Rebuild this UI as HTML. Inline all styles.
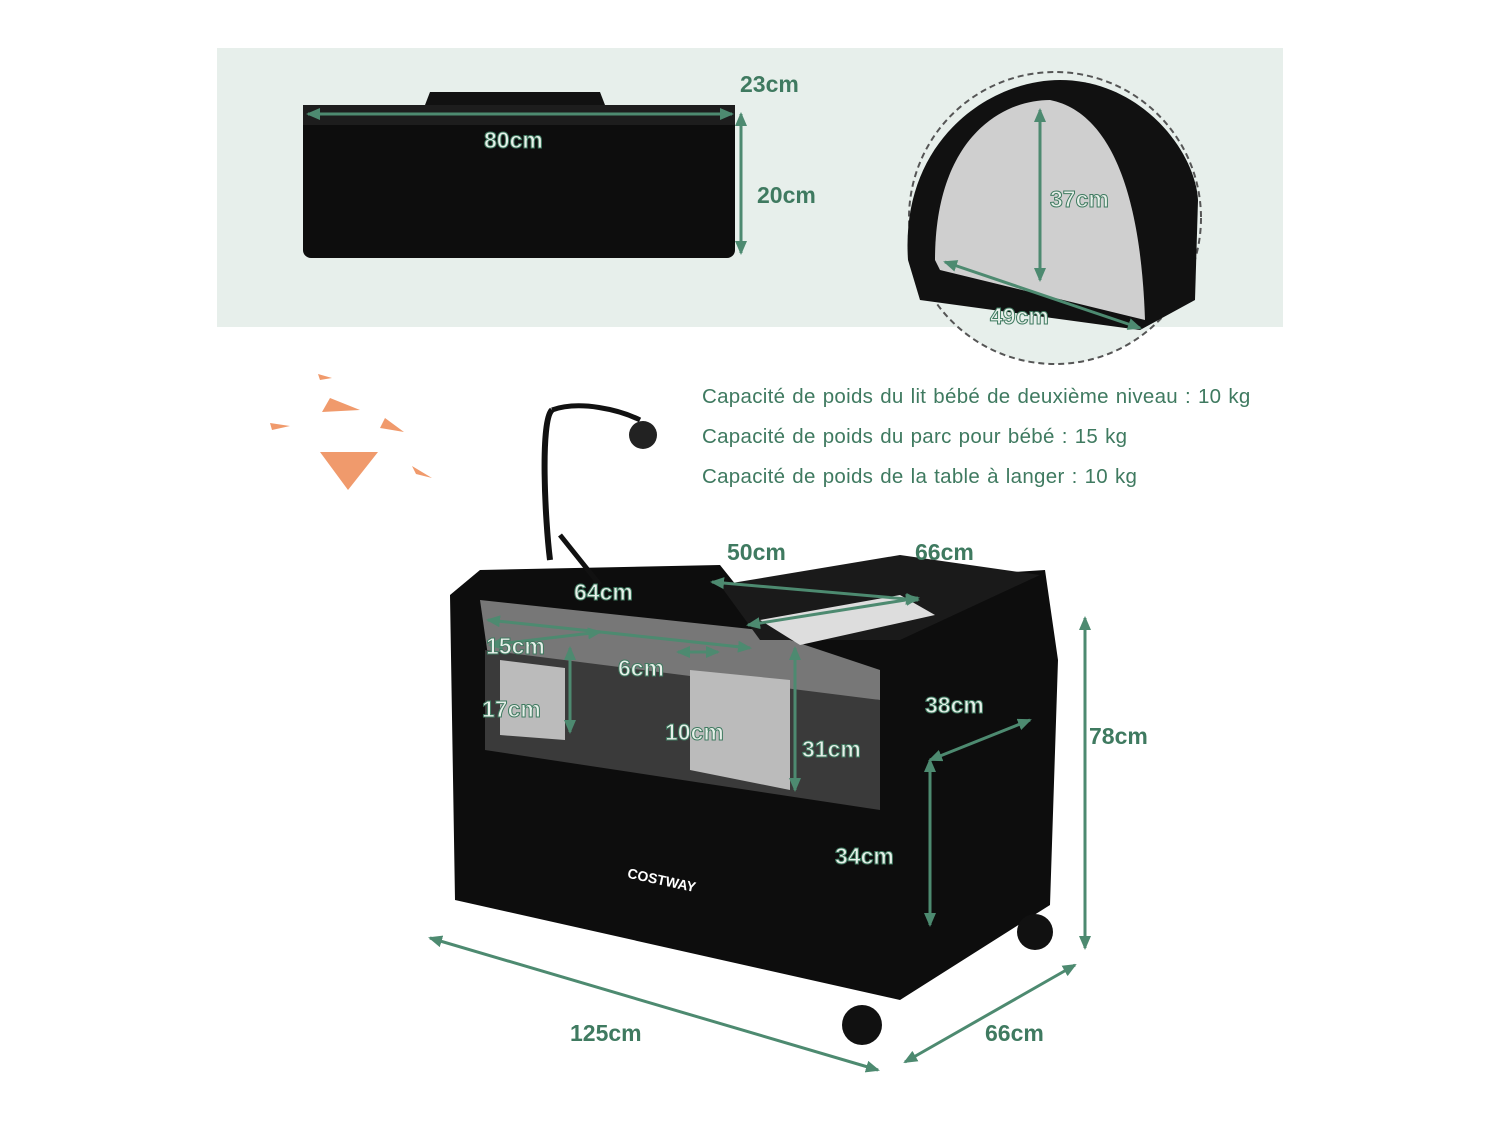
<!DOCTYPE html>
<html><head><meta charset="utf-8"><style>
body{margin:0;width:1500px;height:1125px;background:#fff;position:relative;overflow:hidden;font-family:"Liberation Sans",sans-serif}
.t{position:absolute;color:#3f7a60;font-size:23px;font-weight:bold}
.o{position:absolute;font-size:23px;font-weight:bold;-webkit-text-stroke:1px #3f7a60;color:#e8f0ea}
.c{position:absolute;left:702px;color:#3f7a60;font-size:20.5px;letter-spacing:0.3px;word-spacing:1px}
</style></head><body>
<div style="position:absolute;left:217px;top:48px;width:1066px;height:279px;background:#e7efeb"></div>
<svg width="1500" height="1125" style="position:absolute;left:0;top:0">
<defs><marker id="a" markerUnits="userSpaceOnUse" markerWidth="14" markerHeight="12" refX="12" refY="6" orient="auto-start-reverse"><path d="M0,0L14,6L0,12z" fill="#4d8a70"/></marker></defs>
<path d="M430,92 L600,92 L605,105 L425,105z" fill="#111"/>
<rect x="303" y="105" width="432" height="153" rx="8" fill="#0d0d0d"/>
<rect x="303" y="105" width="432" height="20" fill="#1d1d1d"/>
<circle cx="1055" cy="218" r="146" fill="#e7efeb" stroke="#555" stroke-width="2" stroke-dasharray="6,4"/>
<path d="M908,260 C900,140 990,80 1060,80 C1140,80 1195,150 1198,200 L1195,300 L1140,330 L920,300z" fill="#111"/>
<path d="M935,260 C935,140 1000,100 1050,100 C1100,110 1140,170 1145,320 L940,270z" fill="#cfcfcf"/>
<line x1="1040" y1="110" x2="1040" y2="280" stroke="#4d8a70" stroke-width="3" marker-start="url(#a)" marker-end="url(#a)"/>
<line x1="945" y1="262" x2="1140" y2="328" stroke="#4d8a70" stroke-width="3" marker-start="url(#a)" marker-end="url(#a)"/>
<line x1="308" y1="114" x2="732" y2="114" stroke="#4d8a70" stroke-width="3" marker-start="url(#a)" marker-end="url(#a)"/>
<line x1="741" y1="114" x2="741" y2="253" stroke="#4d8a70" stroke-width="3" marker-start="url(#a)" marker-end="url(#a)"/>
<path d="M322,412 L360,410 L330,398z M320,452 L378,452 L348,490z M385,418 L404,432 L380,428z M270,423 L290,426 L272,430z M412,466 L432,478 L416,474z M318,374 L332,378 L320,380z" fill="#f09a6c"/>
<path d="M552,410 C540,420 545,520 550,560" stroke="#111" stroke-width="6" fill="none"/>
<path d="M552,410 C580,400 620,410 640,420" stroke="#111" stroke-width="5" fill="none"/>
<circle cx="643" cy="435" r="14" fill="#222"/>
<path d="M450,595 L480,570 L720,565 L740,590 L1045,570 L1058,660 L1050,905 L900,1000 L455,900z" fill="#0d0d0d"/>
<path d="M480,600 L760,630 L880,670 L880,700 L490,670z" fill="#777"/>
<path d="M720,585 L900,555 L1040,575 L900,640 L760,640z" fill="#1a1a1a"/>
<path d="M760,620 L900,595 L935,615 L800,645z" fill="#ddd"/>
<path d="M485,650 L880,700 L880,810 L485,750z" fill="#3a3a3a"/>
<path d="M500,660 L565,668 L565,740 L500,735z M690,670 L790,680 L790,790 L690,770z" fill="#bbb"/>
<circle cx="862" cy="1025" r="20" fill="#111"/><circle cx="1035" cy="932" r="18" fill="#111"/>
<path d="M600,585 L560,535" stroke="#111" stroke-width="5"/>
<g stroke="#4d8a70" stroke-width="3" marker-start="url(#a)" marker-end="url(#a)">
<line x1="430" y1="938" x2="878" y2="1070"/><line x1="905" y1="1062" x2="1075" y2="965"/>
<line x1="1085" y1="618" x2="1085" y2="948"/><line x1="488" y1="620" x2="750" y2="648"/>
<line x1="712" y1="582" x2="918" y2="600"/><line x1="748" y1="625" x2="918" y2="598"/>
<line x1="930" y1="760" x2="1030" y2="720"/><line x1="930" y1="760" x2="930" y2="925"/>
<line x1="795" y1="648" x2="795" y2="790"/><line x1="570" y1="648" x2="570" y2="732"/>
<line x1="678" y1="652" x2="718" y2="652"/><line x1="490" y1="645" x2="600" y2="632"/>
</g>
</svg>
<div class="t" style="left:740px;top:71px">23cm</div>
<div class="t" style="left:757px;top:182px">20cm</div>
<div class="o" style="left:484px;top:127px">80cm</div>
<div class="o" style="left:1050px;top:186px">37cm</div>
<div class="o" style="left:990px;top:303px">49cm</div>
<div class="c" style="top:385px">Capacité de poids du lit bébé de deuxième niveau : 10 kg</div>
<div class="c" style="top:425px">Capacité de poids du parc pour bébé : 15 kg</div>
<div class="c" style="top:465px">Capacité de poids de la table à langer : 10 kg</div>
<div class="t" style="left:727px;top:539px">50cm</div>
<div class="t" style="left:915px;top:539px">66cm</div>
<div class="o" style="left:574px;top:579px">64cm</div>
<div class="o" style="left:486px;top:633px">15cm</div>
<div class="o" style="left:618px;top:655px">6cm</div>
<div class="o" style="left:482px;top:696px">17cm</div>
<div class="o" style="left:665px;top:719px">10cm</div>
<div class="o" style="left:802px;top:736px">31cm</div>
<div class="o" style="left:925px;top:692px">38cm</div>
<div class="o" style="left:835px;top:843px">34cm</div>
<div class="t" style="left:1089px;top:723px">78cm</div>
<div class="t" style="left:570px;top:1020px">125cm</div>
<div class="t" style="left:985px;top:1020px">66cm</div>
<div style="position:absolute;left:627px;top:872px;color:#fff;font-size:14px;font-weight:bold;transform:rotate(12deg)">COSTWAY</div>
</body></html>
